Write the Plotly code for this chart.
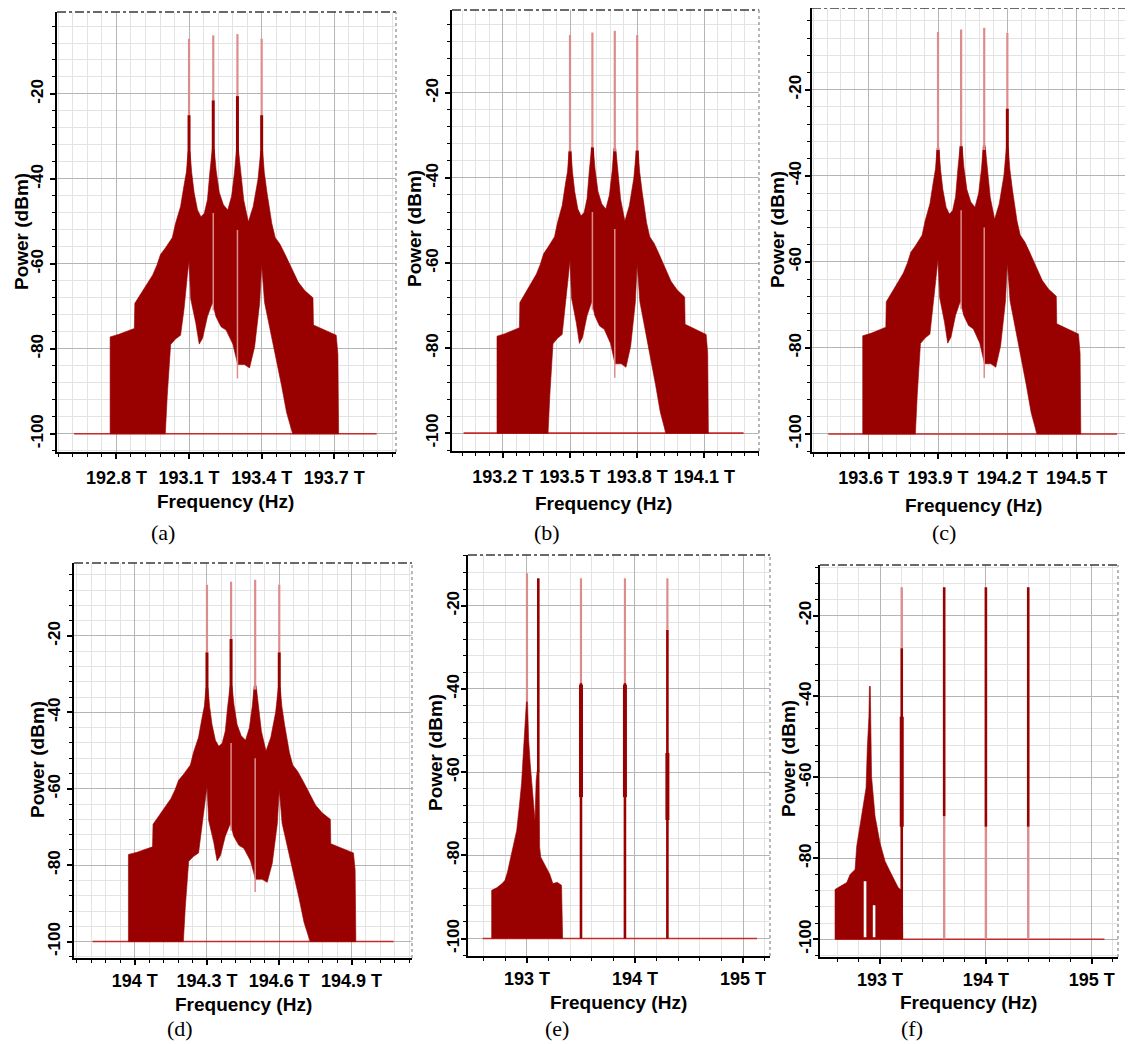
import plotly.graph_objects as go

# page offset of the browser (default body margin) and figure size
PAGE_OFF = 8
W, H = 1133 - PAGE_OFF, 1044 - PAGE_OFF
DARK = "#990000"
LIGHT = "#dd8c8c"
BASE = "#c42a2a"

# ---------------- data ----------------
# Shared spectral body of panels (a)-(d): offset from first channel (THz) / power (dBm)
BODY_UPPER_OFFSET = [-0.326, -0.326, -0.29, -0.24, -0.226, -0.224, -0.18, -0.15, -0.132, -0.118,
                     -0.097, -0.076, -0.069, -0.056, -0.035, -0.021, -0.011, -0.004, 0.004, 0.011,
                     0.021, 0.035, 0.049, 0.063, 0.076, 0.086, 0.096, 0.104, 0.112, 0.125,
                     0.142, 0.160, 0.176, 0.188, 0.196, 0.204, 0.214, 0.226, 0.245, 0.265,
                     0.285, 0.296, 0.304, 0.311, 0.322, 0.342, 0.356, 0.376, 0.397, 0.424,
                     0.451, 0.478, 0.506, 0.512, 0.514, 0.561, 0.608, 0.615, 0.618]
BODY_UPPER_DBM = [-100, -77.2, -76.6, -75.4, -75.2, -69.3, -65.5, -62.6, -60.2, -57.8,
                  -56.2, -54.6, -53.8, -50.5, -46.5, -41.6, -38.4, -33.5, -33.5, -38.5,
                  -43.2, -47.3, -48.9, -48.1, -44.9, -38.4, -33.0, -33.0, -38.0, -43.2,
                  -46.1, -47.3, -44.0, -38.4, -33.0, -33.0, -39.0, -45.0, -50.1, -46.5,
                  -40.0, -33.5, -33.5, -38.5, -43.2, -50.5, -53.8, -55.4, -57.8, -61.0,
                  -64.3, -66.3, -67.7, -68.0, -74.4, -75.6, -76.8, -81.3, -100]
BODY_LOWER_OFFSET = [-0.326, -0.098, -0.09, -0.076, -0.056, -0.035, -0.021, -0.007, 0.0, 0.007,
                     0.028, 0.042, 0.056, 0.076, 0.097, 0.111, 0.132, 0.153, 0.181, 0.201,
                     0.229, 0.25, 0.271, 0.292, 0.3, 0.312, 0.34, 0.361, 0.382, 0.403,
                     0.417, 0.428, 0.618]
BODY_LOWER_DBM = [-100, -100, -91.0, -79.0, -77.7, -76.8, -70.8, -62.7, -59.4, -68.3,
                  -74.0, -78.9, -77.5, -72.4, -69.1, -72.4, -74.8, -75.6, -78.9, -83.7,
                  -83.7, -84.5, -79.5, -69.1, -60.2, -69.1, -77.2, -82.9, -88.6, -95.0,
                  -97.5, -100, -100]
CHANNEL_OFFSETS = [0.0, 0.1, 0.2, 0.3]
BASELINE_OFFSETS = [-0.475, 0.775]
INNER_LINE_OFFSETS = [0.1, 0.2]
INNER_LINE_TOP = [-48.0, -52.0]
INNER_LINE_BOTTOM = [-71.0, -87.0]

FIRST_CHANNEL_THZ = [193.1, 193.5, 193.9, 194.3]          # panels a, b, c, d
DARK_TOP = [[-25.0, -21.5, -20.5, -25.0],
            [-33.8, -32.8, -33.8, -33.6],
            [-34.0, -33.2, -34.0, -24.4],
            [-24.3, -20.8, -34.1, -24.3]]
SPIKE_TOP = [[-7.0, -6.2, -5.9, -7.0],
             [-6.4, -5.8, -5.4, -6.4],
             [-6.6, -6.0, -5.6, -6.8],
             [-6.6, -5.8, -5.3, -6.6]]

# Panel (e)
E_CLUSTER_THZ = [192.673, 192.673, 192.72, 192.77, 192.796, 192.82, 192.84, 192.87, 192.905, 192.93,
                 192.95, 192.965, 192.98, 192.995, 193.005, 193.015, 193.03, 193.05, 193.074, 193.085,
                 193.095, 193.112, 193.117, 193.127, 193.15, 193.18, 193.21, 193.24, 193.28, 193.32,
                 193.33]
E_CLUSTER_DBM = [-100, -88.4, -87.8, -86.8, -86.0, -84.0, -81.6, -78.0, -74.0, -68.0,
                 -62.7, -56.0, -48.3, -43.0, -43.0, -52.0, -58.0, -65.0, -71.6, -62.0,
                 -59.6, -59.6, -78.0, -80.4, -81.5, -82.8, -84.5, -86.8, -86.5, -87.2,
                 -100]
E_BASELINE_THZ = [192.59, 195.13]
E_DARK_THZ = [193.105, 193.5, 193.907, 194.3]
E_DARK_BOTTOM = [-60.0, -100, -100, -100]
E_DARK_TOP = [-13.4, -38.6, -38.6, -25.8]
E_THICK_THZ = [193.5, 193.907, 194.3]
E_THICK_BOTTOM = [-66.0, -66.0, -71.5]
E_THICK_TOP = [-39.0, -39.0, -55.4]
E_SPIKE_THZ = [193.0, 193.5, 193.907, 194.3]
E_SPIKE_BOTTOM = [-43.0, -38.6, -38.6, -25.8]
E_SPIKE_TOP = [-12.2, -13.4, -13.4, -13.4]

# Panel (f)
F_CLUSTER_THZ = [192.575, 192.575, 192.62, 192.686, 192.717, 192.764, 192.78, 192.827, 192.868, 192.88,
                 192.895, 192.9, 192.908, 192.92, 192.953, 193.0, 193.047, 193.09, 193.126, 193.173,
                 193.21, 193.215]
F_CLUSTER_DBM = [-100, -87.7, -87.0, -86.0, -84.0, -82.8, -77.0, -69.6, -62.6, -52.7,
                 -45.0, -37.5, -37.5, -59.8, -69.6, -76.2, -80.7, -83.0, -84.8, -87.3,
                 -88.0, -100]
F_GAP_THZ = [192.846, 192.871, 192.932, 192.956]
F_GAP_TOP = [-85.7, -85.7, -91.6, -91.6]
F_BASELINE_THZ = [192.575, 195.12]
F_DARK_THZ = [193.205, 193.606, 194.0, 194.4]
F_DARK_BOTTOM = [-100, -69.6, -72.2, -72.2]
F_DARK_TOP = [-28.1, -13.0, -13.0, -13.0]
F_LIGHT_BOTTOM = [-28.1, -100, -100, -100]
F_LIGHT_TOP = [-13.0, -69.6, -72.2, -72.2]
F_THICK_THZ = [193.205]
F_THICK_BOTTOM = [-72.2]
F_THICK_TOP = [-45.0]

# Tick labels
XTICKS = [[192.8, 193.1, 193.4, 193.7],
          [193.2, 193.5, 193.8, 194.1],
          [193.6, 193.9, 194.2, 194.5],
          [194.0, 194.3, 194.6, 194.9],
          [193.0, 194.0, 195.0],
          [193.0, 194.0, 195.0]]
XTICKTEXT = [["192.8 T", "193.1 T", "193.4 T", "193.7 T"],
             ["193.2 T", "193.5 T", "193.8 T", "194.1 T"],
             ["193.6 T", "193.9 T", "194.2 T", "194.5 T"],
             ["194 T", "194.3 T", "194.6 T", "194.9 T"],
             ["193 T", "194 T", "195 T"],
             ["193 T", "194 T", "195 T"]]
YTICKS = [-100, -80, -60, -40, -20]
CAPTIONS = ["(a)", "(b)", "(c)", "(d)", "(e)", "(f)"]

# ---------------- layout geometry (pixels in the 1133x1044 window) ----------------
PANELS = [
    dict(px=(57, 396), py=(12, 452), xr=(192.5545, 193.955), yr=(-104.3, -0.7), minor=0.06,
         ystand=0, xstand=3, ytitle=(21, 232), xtitle=(225, 501), cap=(163, 532)),
    dict(px=(452, 759), py=(10, 451), xr=(192.973, 194.344), yr=(-104.2, -0.5), minor=0.06,
         ystand=0, xstand=3, ytitle=(415, 229), xtitle=(603, 504), cap=(547, 532)),
    dict(px=(812, 1133), py=(8, 452), xr=(193.3545, 194.744), yr=(-104.2, -1.0), minor=0.06,
         ystand=-3, xstand=3, ytitle=(777, 230), xtitle=(973, 505), cap=(944, 532)),
    dict(px=(74, 412), py=(563, 958), xr=(193.748, 195.151), yr=(-104.3, -0.9), minor=0.06,
         ystand=0, xstand=0, ytitle=(37, 760), xtitle=(243, 1004), cap=(180, 1028)),
    dict(px=(468, 770), py=(555, 956), xr=(192.454, 195.25), yr=(-104.2, -7.8), minor=0.2,
         ystand=-5, xstand=0, ytitle=(435, 753), xtitle=(618, 1002), cap=(557, 1028)),
    dict(px=(820, 1118), py=(565, 957), xr=(192.433, 195.248), yr=(-104.4, -7.5), minor=0.2,
         ystand=-5, xstand=0, ytitle=(788, 759), xtitle=(968, 1002), cap=(912, 1028)),
]


def clamp(v):
    return max(0.0, min(1.0, v))


def fx(px):
    return (px - PAGE_OFF) / W


def fy(py):
    return 1 - (py - PAGE_OFF) / H


fig = go.Figure()


def axis_names(i):
    return ("x" if i == 0 else f"x{i+1}"), ("y" if i == 0 else f"y{i+1}")


def segments(xs, y0s, y1s):
    X, Y = [], []
    for x, a, b in zip(xs, y0s, y1s):
        X += [x, x, None]
        Y += [a, b, None]
    return X, Y


def add_lines(i, xs, y0s, y1s, color, width):
    xa, ya = axis_names(i)
    X, Y = segments(xs, y0s, y1s)
    fig.add_trace(go.Scatter(x=X, y=Y, mode="lines", line=dict(color=color, width=width),
                             xaxis=xa, yaxis=ya, hoverinfo="skip", showlegend=False))


def add_poly(i, xs, ys, color):
    xa, ya = axis_names(i)
    fig.add_trace(go.Scatter(x=xs, y=ys, mode="lines", fill="toself", fillcolor=color,
                             line=dict(color=color, width=0.6), xaxis=xa, yaxis=ya,
                             hoverinfo="skip", showlegend=False))


def add_baseline(i, xs):
    xa, ya = axis_names(i)
    fig.add_trace(go.Scatter(x=xs, y=[YTICKS[0]] * len(xs), mode="lines",
                             line=dict(color=BASE, width=1.6), xaxis=xa, yaxis=ya,
                             hoverinfo="skip", showlegend=False))


# panels a-d
for i, f0 in enumerate(FIRST_CHANNEL_THZ):
    add_baseline(i, [f0 + o for o in BASELINE_OFFSETS])
    ux = [f0 + o for o in BODY_UPPER_OFFSET]
    lx = [f0 + o for o in BODY_LOWER_OFFSET]
    add_poly(i, ux + lx[::-1], BODY_UPPER_DBM + BODY_LOWER_DBM[::-1], DARK)
    ch = [f0 + o for o in CHANNEL_OFFSETS]
    add_lines(i, ch, DARK_TOP[i], SPIKE_TOP[i], LIGHT, 2.2)
    add_lines(i, ch, [-45] * 4, DARK_TOP[i], DARK, 3)
    add_lines(i, [f0 + o for o in INNER_LINE_OFFSETS], INNER_LINE_BOTTOM, INNER_LINE_TOP, LIGHT, 1.5)

# panel e
add_baseline(4, E_BASELINE_THZ)
add_poly(4, E_CLUSTER_THZ, E_CLUSTER_DBM, DARK)
add_lines(4, E_SPIKE_THZ, E_SPIKE_BOTTOM, E_SPIKE_TOP, LIGHT, 2.2)
add_lines(4, E_DARK_THZ, E_DARK_BOTTOM, E_DARK_TOP, DARK, 2.6)
add_lines(4, E_THICK_THZ, E_THICK_BOTTOM, E_THICK_TOP, DARK, 4)

# panel f
add_baseline(5, F_BASELINE_THZ)
add_poly(5, F_CLUSTER_THZ, F_CLUSTER_DBM, DARK)
add_lines(5, F_DARK_THZ, F_LIGHT_BOTTOM, F_LIGHT_TOP, LIGHT, 2.4)
add_lines(5, F_DARK_THZ, F_DARK_BOTTOM, F_DARK_TOP, DARK, 2.6)
add_lines(5, F_THICK_THZ, F_THICK_BOTTOM, F_THICK_TOP, DARK, 4)
# white gaps inside the (f) cluster
fig.add_trace(go.Scatter(
    x=[F_GAP_THZ[0], F_GAP_THZ[0], F_GAP_THZ[1], F_GAP_THZ[1], None,
       F_GAP_THZ[2], F_GAP_THZ[2], F_GAP_THZ[3], F_GAP_THZ[3]],
    y=[-99.5, F_GAP_TOP[0], F_GAP_TOP[1], -99.5, None, -99.5, F_GAP_TOP[2], F_GAP_TOP[3], -99.5],
    mode="lines", fill="toself", fillcolor="white", line=dict(color="white", width=0),
    xaxis="x6", yaxis="y6", hoverinfo="skip", showlegend=False))

SANS = "Liberation Sans, Arial, sans-serif"
XTICKFONT = dict(family=SANS, size=18, color="black", weight="bold")
YTICKFONT = dict(family=SANS, size=17, color="black", weight="bold")
XTITLEFONT = dict(family=SANS, size=19, color="black", weight="bold")
YTITLEFONT = dict(family=SANS, size=19, color="black", weight="bold")
CAPFONT = dict(family="Liberation Serif, Times New Roman, serif", size=22, color="black")

layout = dict(width=W, height=H, margin=dict(l=0, r=0, t=0, b=0),
              paper_bgcolor="white", plot_bgcolor="white", showlegend=False)
annotations = []
shapes = []
for i, p in enumerate(PANELS):
    xa, ya = axis_names(i)
    xkey = "xaxis" if i == 0 else f"xaxis{i+1}"
    ykey = "yaxis" if i == 0 else f"yaxis{i+1}"
    layout[xkey] = dict(
        domain=[clamp(fx(p["px"][0])), clamp(fx(p["px"][1]))], anchor=ya, range=list(p["xr"]),
        tickmode="array", tickvals=XTICKS[i], ticktext=XTICKTEXT[i], tickfont=XTICKFONT,
        ticklabelstandoff=p["xstand"],
        showgrid=True, gridcolor="#b5b5b5", gridwidth=1, zeroline=False,
        showline=True, linecolor="black", linewidth=2,
        ticks="outside", ticklen=5, tickwidth=1.5, tickcolor="black",
        minor=dict(dtick=p["minor"], tick0=XTICKS[i][0], showgrid=True, gridcolor="#e3e3e3",
                   gridwidth=1, ticks="outside", ticklen=3, tickcolor="black", tickwidth=1.2),
        fixedrange=True)
    layout[ykey] = dict(
        domain=[clamp(fy(p["py"][1])), clamp(fy(p["py"][0]))], anchor=xa, range=list(p["yr"]),
        tickmode="array", tickvals=YTICKS, ticktext=[str(v) for v in YTICKS],
        tickangle=-90, tickfont=YTICKFONT, ticklabelstandoff=p["ystand"],
        showgrid=True, gridcolor="#b5b5b5", gridwidth=1, zeroline=False,
        showline=True, linecolor="black", linewidth=2,
        ticks="outside", ticklen=5, tickwidth=1.5, tickcolor="black",
        minor=dict(dtick=4, tick0=-100, showgrid=True, gridcolor="#e3e3e3", gridwidth=1,
                   ticks="outside", ticklen=3, tickcolor="black", tickwidth=1.2),
        fixedrange=True)
    # top dashed and right dotted borders
    shapes.append(dict(type="line", xref=f"{xa} domain", yref=f"{ya} domain", x0=0, x1=1, y0=1, y1=1,
                       line=dict(color="#3a3a3a", width=1.6, dash="dashdot")))
    shapes.append(dict(type="line", xref=f"{xa} domain", yref=f"{ya} domain", x0=1, x1=1, y0=0, y1=1,
                       line=dict(color="#9a9a9a", width=1.4, dash="dot")))
    annotations.append(dict(text="Power (dBm)", x=fx(p["ytitle"][0]), y=fy(p["ytitle"][1]),
                            xref="paper", yref="paper", showarrow=False, textangle=-90,
                            xanchor="center", yanchor="middle", font=YTITLEFONT))
    annotations.append(dict(text="Frequency (Hz)", x=fx(p["xtitle"][0]), y=fy(p["xtitle"][1]),
                            xref="paper", yref="paper", showarrow=False,
                            xanchor="center", yanchor="middle", font=XTITLEFONT))
    annotations.append(dict(text=CAPTIONS[i], x=fx(p["cap"][0]), y=fy(p["cap"][1]),
                            xref="paper", yref="paper", showarrow=False,
                            xanchor="center", yanchor="middle", font=CAPFONT))

layout["annotations"] = annotations
layout["shapes"] = shapes
fig.update_layout(**layout)
fig.write_html("out.html")
